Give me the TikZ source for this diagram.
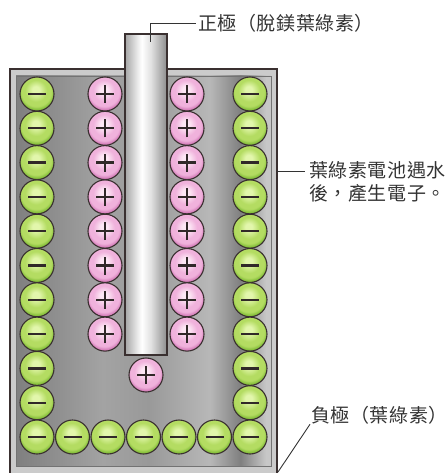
\documentclass[tikz,border=0pt]{standalone}
\usepackage{fontspec}
\newfontfamily\cjk[LetterSpace=3]{Noto Sans CJK TC}
\usetikzlibrary{positioning}
\definecolor{marco}{HTML}{3A3030}
\definecolor{borde}{HTML}{CBCBCB}
\definecolor{texto}{HTML}{333333}
\definecolor{vclaro}{HTML}{E2F6AC}
\definecolor{vmedio}{HTML}{B4DC62}
\definecolor{voscuro}{HTML}{84BE3A}
\definecolor{rclaro}{HTML}{FDE8F5}
\definecolor{rmedio}{HTML}{F0B2DC}
\definecolor{roscuro}{HTML}{D57EBA}

% Sombreados del recipiente, la barra y las esferas
\pgfdeclarehorizontalshading{tanque}{100bp}{color(0bp)=(black!50); color(25bp)=(black!50);
  color(34bp)=(black!43); color(42bp)=(black!36); color(51bp)=(black!40);
  color(63bp)=(black!28); color(69bp)=(black!50); color(74bp)=(black!22); color(100bp)=(black!22)}
\pgfdeclarehorizontalshading{barra}{100bp}{color(0bp)=(black!35); color(25bp)=(black!35);
  color(41bp)=(black!6); color(45bp)=(white); color(56bp)=(black!12); color(75bp)=(black!45); color(100bp)=(black!45)}
\pgfdeclareradialshading{bverde}{\pgfqpoint{-2bp}{7bp}}{color(0bp)=(vclaro); color(5bp)=(vclaro);
  color(16bp)=(vmedio); color(22bp)=(vmedio); color(26bp)=(voscuro); color(50bp)=(voscuro)}
\pgfdeclareradialshading{brosa}{\pgfqpoint{-2bp}{7bp}}{color(0bp)=(rclaro); color(5bp)=(rclaro);
  color(16bp)=(rmedio); color(22bp)=(rmedio); color(26bp)=(roscuro); color(50bp)=(roscuro)}

\begin{document}
\begin{tikzpicture}[
  x=1pt, y=-1pt,
  signo/.style={line width=2.3pt, draw=marco!85!black},
  nball/.style={circle, minimum size=34pt, inner sep=0pt, draw=marco, line width=1.1pt, shading=bverde,
    path picture={\draw[signo] ([xshift=-9pt]path picture bounding box.center)
      -- ([xshift=9pt]path picture bounding box.center);}},
  pball/.style={circle, minimum size=34pt, inner sep=0pt, draw=marco, line width=1.1pt, shading=brosa,
    path picture={\draw[signo] ([xshift=-9pt]path picture bounding box.center)
      -- ([xshift=9pt]path picture bounding box.center);
      \draw[signo] ([yshift=-9pt]path picture bounding box.center)
      -- ([yshift=9pt]path picture bounding box.center);}},
  lbl/.style={font=\cjk\fontsize{19}{22.5}\selectfont, text=texto, inner sep=0pt, align=left},
  ar/.style={draw=texto, line width=0.9pt},
]
\useasboundingbox (0,0) rectangle (447,473);

% Recipiente
\filldraw[fill=borde, draw=marco, line width=1.6pt] (10,69) rectangle (277,474);
\shade[shading=tanque] (16,76) rectangle (271,466);
\draw[black!55, line width=0.8pt] (16,76) rectangle (271,466);

% Barra central
\shadedraw[shading=barra, draw=marco, line width=1.4pt] (125,34) rectangle (167,355);

% Electrones (verde) e iones (rosa)
\foreach \i in {1,...,11} {
  \node[nball] (l\i) at (37, {94+34.3*(\i-1)}) {};
  \node[nball] (r\i) at (250, {94+34.3*(\i-1)}) {};
}
\foreach \k in {1,...,5}
  \node[nball] (b\k) at ({37+35.5*\k}, 437) {};
\foreach \i in {1,...,8} {
  \node[pball] (p\i) at (105, {94+34.3*(\i-1)}) {};
  \node[pball] (q\i) at (187, {94+34.3*(\i-1)}) {};
}
\node[pball] (p0) at (146,375) {};

% Rótulos
\node[lbl, anchor=west] (pl) at (198,23) {正極（脫鎂葉綠素）};
\node[lbl, anchor=west] (ml) at (309,182) {葉綠素電池遇水\\後，產生電子。};
\node[lbl, anchor=west] (nl) at (311,415) {負極（葉綠素）};
\coordinate (ptip) at (150,42);
\coordinate (mtip) at (277,171);
\coordinate (nbase) at (278,472);
\draw[ar, shorten >=2pt] (ptip) |- (pl.west);
\draw[ar, shorten >=4pt] (mtip) -- (mtip -| ml.west);
\draw[ar] (nbase) -- ([xshift=-1pt]nl.south west);
\end{tikzpicture}
\end{document}
